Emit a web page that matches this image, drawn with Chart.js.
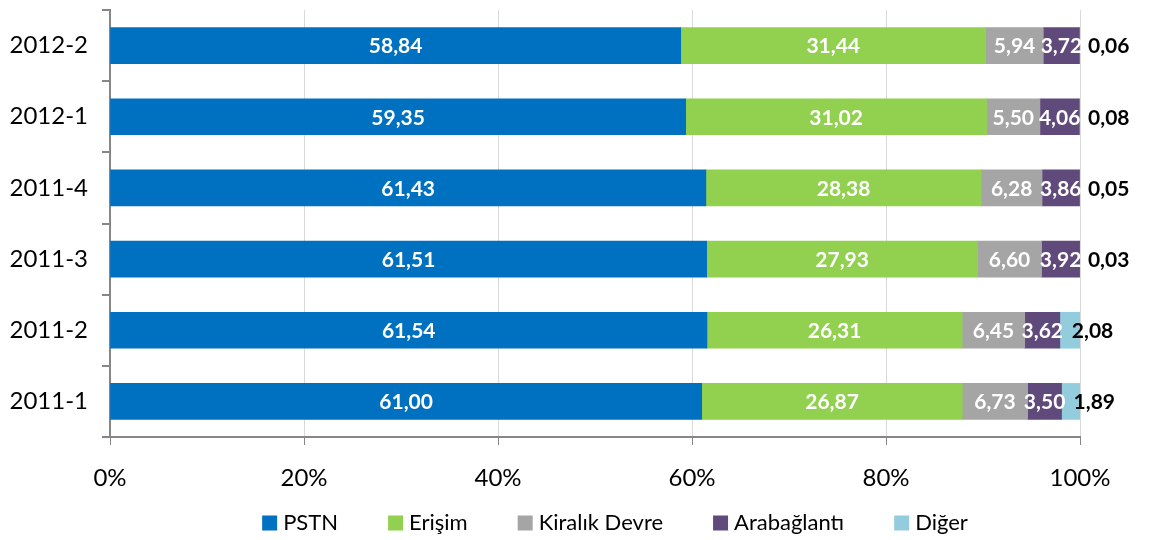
<!DOCTYPE html>
<html>
<head>
<meta charset="utf-8">
<script src="https://cdn.jsdelivr.net/npm/chart.js@4/dist/chart.umd.min.js"></script>
<style>
  html, body { margin: 0; padding: 0; background: #fff; }
  #wrap { width: 1152px; height: 540px; }
</style>
</head>
<body>
<div id="wrap"><canvas id="myChart" width="1152" height="540"></canvas></div>
<script>
const periods = ['2012-2', '2012-1', '2011-4', '2011-3', '2011-2', '2011-1'];
const pstn = [58.84, 59.35, 61.43, 61.51, 61.54, 61.00];
const erisim = [31.44, 31.02, 28.38, 27.93, 26.31, 26.87];
const kiralikDevre = [5.94, 5.50, 6.28, 6.60, 6.45, 6.73];
const arabaglanti = [3.72, 4.06, 3.86, 3.92, 3.62, 3.50];
const diger = [0.06, 0.08, 0.05, 0.03, 2.08, 1.89];
const xTicks = [0, 20, 40, 60, 80, 100];

const fmt = v => v.toFixed(2).replace('.', ',');

// draws the value of each segment, white inside, last series in black outside
const segmentLabels = {
    id: 'segmentLabels',
    afterDatasetsDraw(chart) {
        const ctx = chart.ctx;
        const last = chart.data.datasets.length - 1;
        ctx.save();
        ctx.font = 'bold 21px Lato';
        ctx.textBaseline = 'middle';
        chart.data.datasets.forEach((ds, i) => {
            const meta = chart.getDatasetMeta(i);
            meta.data.forEach((bar, j) => {
                const text = fmt(ds.data[j]);
                if (i === last) {
                    ctx.fillStyle = '#000';
                    ctx.textAlign = 'left';
                    const left = ds.data[j] >= 1 ? bar.base + 12 : bar.x + 8;
                    ctx.fillText(text, left, bar.y + 1);
                } else {
                    ctx.fillStyle = '#fff';
                    ctx.textAlign = 'center';
                    ctx.fillText(text, (bar.x + bar.base) / 2, bar.y + 1);
                }
            });
        });
        ctx.restore();
    }
};

// legend row along the bottom, wider spacing than the built-in one
const bottomLegend = {
    id: 'bottomLegend',
    afterDraw(chart) {
        const ctx = chart.ctx;
        const box = 15, textGap = 6, itemGap = 50, centerX = 615, y = 523;
        ctx.save();
        ctx.font = '22px Lato';
        ctx.textBaseline = 'middle';
        ctx.textAlign = 'left';
        const items = chart.data.datasets.map(ds => ({
            label: ds.label,
            color: ds.backgroundColor,
            w: box + textGap + ctx.measureText(ds.label).width
        }));
        const total = items.reduce((s, it) => s + it.w, 0) + itemGap * (items.length - 1);
        let x = centerX - total / 2;
        items.forEach(it => {
            ctx.fillStyle = it.color;
            ctx.fillRect(x, y - box / 2, box, box);
            ctx.fillStyle = '#000';
            ctx.fillText(it.label, x + box + textGap, y);
            x += it.w + itemGap;
        });
        ctx.restore();
    }
};

const ctx = document.getElementById('myChart').getContext('2d');
const myChart = new Chart(ctx, {
    type: 'bar',
    data: {
        labels: periods,
        datasets: [
            { label: 'PSTN', data: pstn, backgroundColor: '#0070C0' },
            { label: 'Erişim', data: erisim, backgroundColor: '#92D050' },
            { label: 'Kiralık Devre', data: kiralikDevre, backgroundColor: '#A5A5A5' },
            { label: 'Arabağlantı', data: arabaglanti, backgroundColor: '#604A7B' },
            { label: 'Diğer', data: diger, backgroundColor: '#93CDDD' }
        ]
    },
    options: {
        indexAxis: 'y',
        responsive: false,
        animation: false,
        barThickness: 36,
        layout: { padding: { top: 10, right: 72, bottom: 47, left: 0 } },
        plugins: {
            tooltip: { enabled: false },
            legend: { display: false }
        },
        scales: {
            x: {
                stacked: true,
                min: 0,
                max: 100,
                afterBuildTicks: axis => { axis.ticks = xTicks.map(v => ({ value: v })); },
                afterFit: axis => { axis.height = 56; },
                ticks: {
                    color: '#000',
                    padding: 19,
                    font: { family: 'Lato', size: 24 },
                    callback: v => v + '%'
                },
                grid: { color: '#D9D9D9', tickColor: '#868686', tickLength: 8 },
                border: { color: '#868686', width: 2 }
            },
            y: {
                stacked: true,
                afterFit: axis => {
                    axis.width = 110;
                    axis.paddingTop = 0;
                    axis.paddingBottom = 0;
                },
                ticks: {
                    color: '#000',
                    padding: 14,
                    font: { family: 'Lato', size: 24 }
                },
                grid: { offset: true, drawOnChartArea: false, tickColor: '#868686', tickLength: 8, lineWidth: 2 },
                border: { color: '#868686', width: 2 }
            }
        }
    },
    plugins: [segmentLabels, bottomLegend]
});
</script>
</body>
</html>
